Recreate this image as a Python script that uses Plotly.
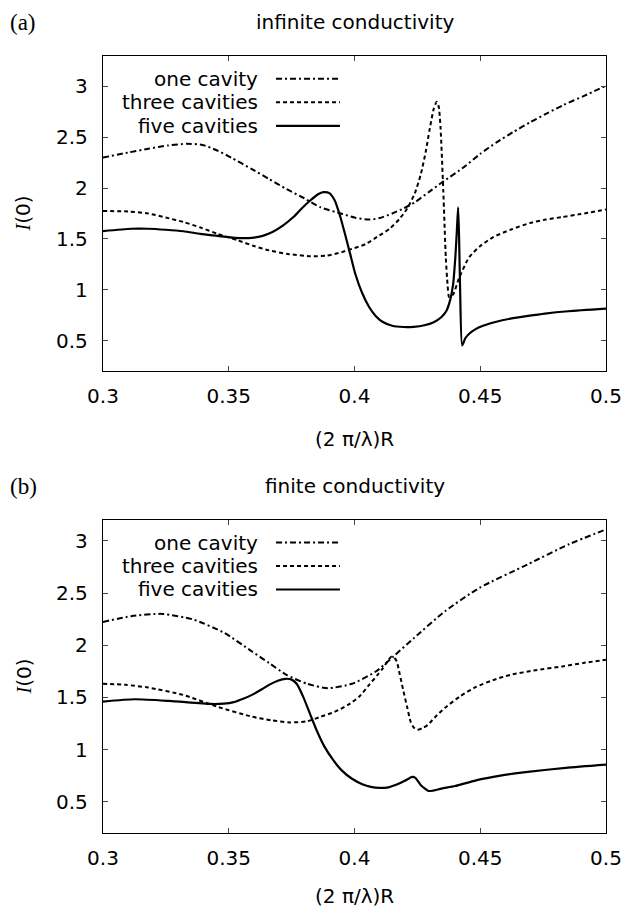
import plotly.graph_objects as go

# ---------------- data: panel (a) infinite conductivity ----------------
a_one_x = [0.300, 0.310, 0.318, 0.326, 0.3335, 0.3395, 0.345, 0.351, 0.359, 0.366, 0.373, 0.380, 0.3866,
           0.3952, 0.4000, 0.4058, 0.410, 0.415, 0.4195, 0.424, 0.4295, 0.435, 0.4435, 0.450,
           0.4565, 0.4630, 0.4698, 0.4765, 0.483, 0.4915, 0.500]
a_one_y = [2.30, 2.35, 2.387, 2.42, 2.436, 2.425, 2.375, 2.30, 2.19, 2.09, 1.99, 1.90, 1.81,
           1.745, 1.71, 1.69, 1.705, 1.75, 1.80, 1.86, 1.96, 2.06, 2.206, 2.337,
           2.45, 2.55, 2.647, 2.735, 2.817, 2.91, 3.007]

a_three_x = [0.300, 0.310, 0.318, 0.325, 0.332, 0.339, 0.3455, 0.3537, 0.360, 0.366, 0.374, 0.3825,
             0.3890, 0.3949, 0.4000, 0.4045, 0.409, 0.414, 0.418, 0.4209, 0.424, 0.4264, 0.4285,
             0.4298, 0.4315, 0.4327, 0.4335, 0.4342, 0.4353, 0.4363, 0.4370, 0.4376, 0.4385,
             0.4394, 0.4415, 0.4456, 0.450, 0.4552, 0.462, 0.4698, 0.476, 0.4826, 0.490, 0.500]
a_three_y = [1.774, 1.77, 1.75, 1.71, 1.666, 1.61, 1.55, 1.485, 1.43, 1.387, 1.35, 1.33,
             1.335, 1.37, 1.41, 1.45, 1.52, 1.60, 1.70, 1.797, 1.95, 2.14, 2.38,
             2.567, 2.78, 2.85, 2.80, 2.60, 1.977, 1.32, 1.05, 0.93, 0.935,
             0.96, 1.11, 1.32, 1.43, 1.518, 1.59, 1.657, 1.69, 1.715, 1.745, 1.79]

a_five_x = [0.300, 0.3112, 0.318, 0.325, 0.332, 0.3387, 0.3455, 0.3524, 0.3592, 0.3635, 0.3674, 0.3715,
            0.3757, 0.379, 0.3825, 0.3855, 0.3877, 0.3900, 0.3921, 0.3942, 0.3962, 0.3983, 0.4003,
            0.4030, 0.4058, 0.4085, 0.4113, 0.4150, 0.4195, 0.4235, 0.4278, 0.4315, 0.4346, 0.4365,
            0.4380, 0.4392, 0.4401, 0.4407, 0.4412, 0.4416, 0.4420, 0.4428, 0.4440, 0.4456, 0.4480,
            0.4511, 0.456, 0.462, 0.4690, 0.4757, 0.4850, 0.500]
a_five_y = [1.577, 1.60, 1.60, 1.59, 1.575, 1.55, 1.53, 1.51, 1.51, 1.53, 1.567, 1.63,
            1.715, 1.80, 1.88, 1.94, 1.96, 1.95, 1.88, 1.73, 1.55, 1.35, 1.157,
            0.97, 0.83, 0.74, 0.682, 0.645, 0.633, 0.635, 0.65, 0.68, 0.731, 0.79,
            0.895, 1.05, 1.32, 1.58, 1.81, 1.50, 1.00, 0.452, 0.52, 0.567, 0.61,
            0.645, 0.682, 0.715, 0.742, 0.765, 0.788, 0.813]

# ---------------- data: panel (b) finite conductivity ----------------
b_one_x = [0.300, 0.3112, 0.3236, 0.3359, 0.3483, 0.3592, 0.366, 0.3729, 0.3812, 0.3894, 0.399,
           0.4086, 0.4154, 0.4237, 0.436, 0.4497, 0.4689, 0.4853, 0.500]
b_one_y = [2.223, 2.278, 2.30, 2.246, 2.117, 1.94, 1.83, 1.716, 1.63, 1.588, 1.63,
           1.75, 1.89, 2.07, 2.326, 2.55, 2.775, 2.968, 3.11]

b_three_x = [0.300, 0.309, 0.318, 0.3318, 0.3455, 0.3592, 0.367, 0.3743, 0.3810, 0.3866, 0.3920,
             0.3976, 0.4020, 0.4058, 0.4090, 0.4113, 0.4135, 0.4147, 0.4158, 0.4168, 0.4180,
             0.4195, 0.4210, 0.4223, 0.4236, 0.4250, 0.4270, 0.4291, 0.4320, 0.4360, 0.4420,
             0.4483, 0.4550, 0.462, 0.4720, 0.4826, 0.4910, 0.500]
b_three_y = [1.63, 1.62, 1.594, 1.524, 1.41, 1.315, 1.28, 1.26, 1.27, 1.315, 1.36,
             1.43, 1.51, 1.62, 1.71, 1.78, 1.86, 1.89, 1.88, 1.845, 1.72,
             1.556, 1.40, 1.267, 1.21, 1.19, 1.205, 1.235, 1.31, 1.40, 1.51,
             1.60, 1.665, 1.716, 1.76, 1.796, 1.83, 1.86]

b_five_x = [0.300, 0.3126, 0.3263, 0.3428, 0.348, 0.352, 0.356, 0.3592, 0.3630, 0.366, 0.3695, 0.3726,
            0.3750, 0.377, 0.3797, 0.3825, 0.3852, 0.388, 0.3915, 0.3949, 0.3990, 0.4031, 0.4065,
            0.410, 0.4135, 0.4168, 0.4200, 0.4218, 0.4230, 0.4242, 0.4253, 0.4264, 0.4280,
            0.4294, 0.4310, 0.4346, 0.4400, 0.4483, 0.4580, 0.4689, 0.4840, 0.500]
b_five_y = [1.46, 1.482, 1.466, 1.437, 1.44, 1.455, 1.49, 1.524, 1.575, 1.62, 1.66, 1.678,
            1.67, 1.63, 1.50, 1.33, 1.17, 1.03, 0.90, 0.80, 0.72, 0.668, 0.642,
            0.632, 0.638, 0.664, 0.70, 0.725, 0.737, 0.728, 0.695, 0.658, 0.625,
            0.603, 0.605, 0.625, 0.65, 0.705, 0.75, 0.786, 0.825, 0.856]

names = ["one cavity", "three cavities", "five cavities"]
x_ticks = [0.3, 0.35, 0.4, 0.45, 0.5]
y_ticks = [0.5, 1, 1.5, 2, 2.5, 3]
titles = ["infinite conductivity", "finite conductivity"]
panel_tags = ["(a)", "(b)"]
x_label = "(2 π/λ)R"
y_label = '<span style="font-family:Liberation Serif"><i>I</i></span>(0)'

# ---------------- styling / layout ----------------
W, H = 627, 909
FONT = "DejaVu Sans"
dashes = ["6px,3px,2px,3px", "4px,3px", "solid"]
widths = [2, 2, 2.2]

def px_x(p):
    return p / W

def px_y(p):
    return 1 - p / H

x_dom = [px_x(103), px_x(606)]
ya_dom = [px_y(371), px_y(56)]
yb_dom = [px_y(833), px_y(520)]

fig = go.Figure()

panels = [
    ("x", "y", [(a_one_x, a_one_y), (a_three_x, a_three_y), (a_five_x, a_five_y)]),
    ("x2", "y2", [(b_one_x, b_one_y), (b_three_x, b_three_y), (b_five_x, b_five_y)]),
]
for xa, ya, series in panels:
    for i, (xs, ys) in enumerate(series):
        fig.add_trace(go.Scatter(
            x=xs, y=ys, mode="lines", name=names[i], xaxis=xa, yaxis=ya,
            line=dict(color="black", width=widths[i], dash=dashes[i], shape="spline", smoothing=0.6),
            showlegend=False,
        ))

axis_common = dict(
    showgrid=False, zeroline=False, showline=True, linecolor="black", linewidth=1.3,
    mirror="ticks", ticks="inside", ticklen=5, tickwidth=1, tickcolor="#444",
    tickfont=dict(family=FONT, size=20, color="black"), automargin=False,
)

fig.update_layout(
    width=W, height=H, margin=dict(l=0, r=0, t=0, b=0),
    paper_bgcolor="white", plot_bgcolor="white", showlegend=False,
    xaxis=dict(domain=x_dom, range=[0.3, 0.5], tickvals=x_ticks, ticktext=[str(v) for v in x_ticks],
               anchor="y", ticklabelstandoff=7, **axis_common),
    yaxis=dict(domain=ya_dom, range=[0.2, 3.3], tickvals=y_ticks, ticktext=[f"{v:g}" for v in y_ticks],
               anchor="x", ticklabelstandoff=10, **axis_common),
    xaxis2=dict(domain=x_dom, range=[0.3, 0.5], tickvals=x_ticks, ticktext=[str(v) for v in x_ticks],
                anchor="y2", ticklabelstandoff=7, **axis_common),
    yaxis2=dict(domain=yb_dom, range=[0.2, 3.2], tickvals=y_ticks, ticktext=[f"{v:g}" for v in y_ticks],
                anchor="x2", ticklabelstandoff=10, **axis_common),
)

ann = []
shapes = []
panel_px = [(56, 371, 22, 439, "x", "y"), (520, 833, 486, 896, "x2", "y2")]
cx = (103 + 606) / 2
for k, (top, bot, ty, xly, xa, ya) in enumerate(panel_px):
    ann.append(dict(text=panel_tags[k], x=px_x(8), y=px_y(ty), xref="paper", yref="paper",
                    xanchor="left", yanchor="middle", showarrow=False,
                    font=dict(family="Liberation Serif", size=23, color="black")))
    ann.append(dict(text=titles[k], x=px_x(cx), y=px_y(ty), xref="paper", yref="paper",
                    xanchor="center", yanchor="middle", showarrow=False,
                    font=dict(family=FONT, size=20, color="black")))
    ann.append(dict(text=x_label, x=px_x(cx), y=px_y(xly), xref="paper", yref="paper",
                    xanchor="center", yanchor="middle", showarrow=False,
                    font=dict(family=FONT, size=20, color="black")))
    ann.append(dict(text=y_label, x=px_x(23), y=px_y((top + bot) / 2), xref="paper", yref="paper",
                    xanchor="center", yanchor="middle", showarrow=False, textangle=-90,
                    font=dict(family=FONT, size=20, color="black")))
    # custom gnuplot-style key (text right, sample left->right)
    for i, nm in enumerate(names):
        yy = [0.928, 0.853, 0.778][i]
        ann.append(dict(text=nm, x=0.313, y=yy, xref=f"{xa} domain", yref=f"{ya} domain",
                        xanchor="right", yanchor="middle", showarrow=False,
                        font=dict(family=FONT, size=20, color="black")))
        shapes.append(dict(type="line", xref=f"{xa} domain", yref=f"{ya} domain",
                           x0=0.344, x1=0.471, y0=yy, y1=yy,
                           line=dict(color="black", width=widths[i], dash=dashes[i])))

fig.update_layout(annotations=ann, shapes=shapes)
fig.write_html("out.html")
